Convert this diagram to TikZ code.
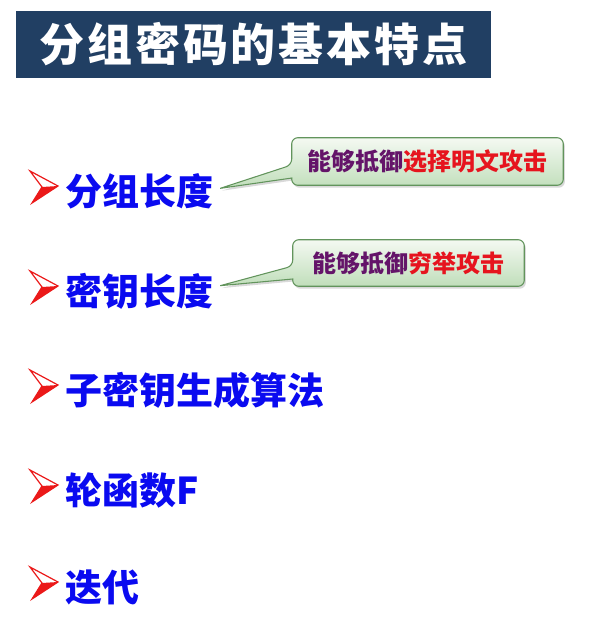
\documentclass[tikz,border=0pt]{standalone}
\usepackage{fontspec}
\newfontfamily\cjk{Noto Sans CJK SC}
\newfontfamily\cjktitle[LetterSpace=6.2]{Noto Sans CJK SC}
\usetikzlibrary{positioning,shadows,backgrounds}

\definecolor{titlebg}{RGB}{33,63,99}
\definecolor{itemblue}{RGB}{10,10,240}
\definecolor{arrowred}{RGB}{235,25,25}
\definecolor{callpurple}{RGB}{100,20,105}
\definecolor{callred}{RGB}{230,20,30}
\definecolor{calltop}{RGB}{244,249,242}
\definecolor{callbot}{RGB}{192,222,186}
\definecolor{calledge}{RGB}{98,148,92}

\tikzset{
  titlebox/.style={fill=titlebg, text=white, inner sep=0pt,
    font=\cjktitle\bfseries\fontsize{33.75pt}{36pt}\selectfont,
    minimum width=356.25pt, minimum height=50.25pt},
  itemtext/.style={anchor=west, inner sep=0pt, text=itemblue,
    font=\cjk\bfseries\fontsize{27.75pt}{30pt}\selectfont},
  calltext/.style={inner sep=0pt, text=callpurple,
    font=\cjk\bfseries\fontsize{18pt}{20pt}\selectfont},
  callbox/.style={draw=calledge, line width=0.8pt, top color=calltop, bottom color=callbot,
    drop shadow={opacity=0.3, shadow xshift=1.2pt, shadow yshift=-1.8pt}},
  bullet/.pic={
    \filldraw[draw=arrowred, fill=white, line width=0.9pt] (-35,-20) -- (-7,-5) -- (-33,12) -- (-23,-4) -- cycle;
    \fill[arrowred] (-23,-4) -- (-7,-5) -- (-33,12) -- cycle;
  }
}

\begin{document}
\begin{tikzpicture}[x=0.75pt,y=-0.75pt]
\useasboundingbox (0,0) rectangle (609,637);

\node[titlebox] (ttl) at (253.5,44.5) {分组密码的基本特点};

% list items
\foreach \yy/\nm/\txt in {191/blk/分组长度, 291/key/密钥长度, 390/sub/子密钥生成算法, 490/rnd/轮函数F, 587/itr/迭代}{
  \node[itemtext] (\nm) at (65,\yy) {\txt};
  \pic at (\nm.west) {bullet};
}

% callouts
\node[calltext, minimum width=203.25pt, minimum height=35.25pt] (cb1) at (427.5,161.5) {能够抵御\textcolor{callred}{选择明文攻击}};
\node[calltext, minimum width=173.25pt, minimum height=34.5pt] (cb2) at (408.5,263) {能够抵御\textcolor{callred}{穷举攻击}};

\begin{pgfonlayer}{background}
\draw[callbox] ([xshift=5pt,yshift=2pt]blk.east) -- ([yshift=-12.4pt]cb1.west)
  {[rounded corners=4.5pt] -- (cb1.south west) -- (cb1.south east) -- (cb1.north east) -- (cb1.north west) -- ([yshift=-2.6pt]cb1.west)} -- cycle;
\draw[callbox] ([xshift=5pt,yshift=4pt]key.east) -- ([yshift=-12pt]cb2.west)
  {[rounded corners=4.5pt] -- (cb2.south west) -- (cb2.south east) -- (cb2.north east) -- (cb2.north west) -- ([yshift=-2.3pt]cb2.west)} -- cycle;
\end{pgfonlayer}

\end{tikzpicture}
\end{document}
